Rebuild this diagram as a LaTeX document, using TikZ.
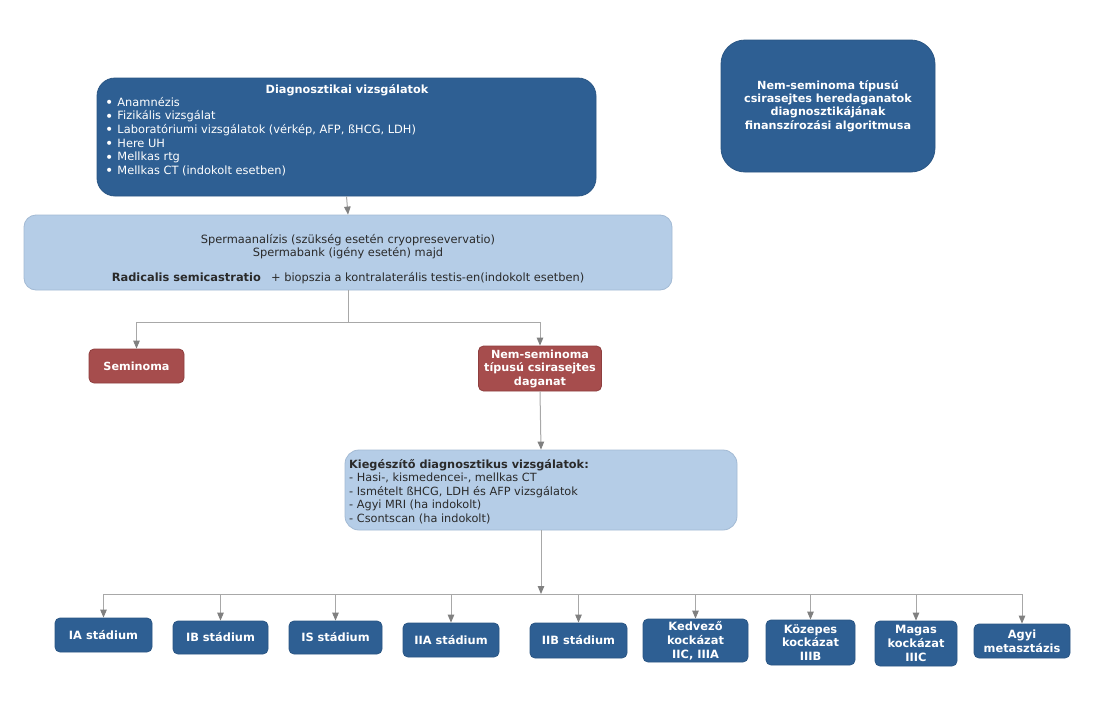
\documentclass[tikz,border=0pt]{standalone}
\usepackage{fontspec}
\setmainfont{DejaVu Sans}
\usetikzlibrary{arrows.meta}
\definecolor{dblue}{HTML}{2E5F93}
\definecolor{dblueb}{HTML}{2A5684}
\definecolor{lblue}{HTML}{B5CDE7}
\definecolor{lblueb}{HTML}{A3BAD4}
\definecolor{dred}{HTML}{A64D4D}
\definecolor{dredb}{HTML}{8E3E3E}
\definecolor{conngray}{HTML}{A8A8A8}
\definecolor{tipgray}{HTML}{808080}
\definecolor{txt}{HTML}{2A2A2A}
\newcommand\mybul{\raisebox{-0.12em}{\fontsize{14}{13.6}\selectfont•}\hspace{0.35em}}
\tikzset{
  dbox/.style={draw=dblueb, fill=dblue, line width=0.8pt, text=white, align=center, inner sep=0pt},
  lbox/.style={draw=lblueb, fill=lblue, line width=0.8pt, text=txt, inner sep=0pt},
  rbox/.style={draw=dredb, fill=dred, line width=0.8pt, text=white, align=center, inner sep=0pt, rounded corners=5pt,
    font=\bfseries\fontsize{11.2}{13.5}\selectfont},
  stage/.style={dbox, rounded corners=5pt, font=\bfseries\fontsize{11.4}{13.8}\selectfont},
  line/.style={draw=conngray, line width=1pt},
  conn/.style={line, -{Triangle[length=8pt,width=6.5pt,color=tipgray,fill=tipgray]}},
}
\begin{document}
\begin{tikzpicture}[x=1pt,y=-1pt]
\useasboundingbox (0,0) rectangle (1093,723);
\fill[white] (0,0) rectangle (1093,723);

% top diagnostic box
\node[dbox, minimum width=499pt, minimum height=118pt, rounded corners=18pt] (diag) at (346.5,137) {};
\node[text=white, font=\bfseries\fontsize{11.3}{13}\selectfont] (diagt) at (347,90) {Diagnosztikai vizsgálatok};
\node[anchor=north west, align=left, text=white, inner sep=0pt, font=\fontsize{11.4}{13.6}\selectfont] (diagl) at (105,97)
  {\mybul Anamnézis\\\mybul Fizikális vizsgálat\\\mybul Laboratóriumi vizsgálatok (vérkép, AFP, ßHCG, LDH)\\\mybul Here UH\\\mybul Mellkas rtg\\\mybul Mellkas CT (indokolt esetben)};

% title box
\node[dbox, minimum width=214pt, minimum height=132pt, rounded corners=24pt,
  font=\bfseries\fontsize{11.2}{13.3}\selectfont] (title) at (828,106)
  {Nem-seminoma típusú\\csirasejtes heredaganatok\\diagnosztikájának\\finanszírozási algoritmusa};

% sperm box
\node[lbox, minimum width=648pt, minimum height=75pt, rounded corners=12pt] (spb) at (348,252.5) {};
\node[text=txt, align=center, font=\fontsize{11.4}{13}\selectfont] (spbt) at (348,247)
  {Spermaanalízis (szükség esetén cryopresevervatio)\\Spermabank (igény esetén) majd};
\node[text=txt, font=\fontsize{11.4}{13}\selectfont] (spbr) at (348,278)
  {\textbf{Radicalis semicastratio}\hspace{0.9em}+ biopszia a kontralaterális testis-en(indokolt esetben)};

% tumour types
\node[rbox, minimum width=95pt, minimum height=34pt] (sem) at (136.5,366) {Seminoma};
\node[rbox, minimum width=123pt, minimum height=45pt] (nem) at (540,368.5) {Nem-seminoma\\típusú csirasejtes\\daganat};

% additional diagnostics
\node[lbox, minimum width=392pt, minimum height=80pt, rounded corners=14pt] (kieg) at (541,490) {};
\node[anchor=north west, align=left, text=txt, inner sep=0pt, font=\fontsize{11.3}{13.5}\selectfont] (kiegt) at (349,459)
  {\textbf{Kiegészítő diagnosztikus vizsgálatok:}\\- Hasi-, kismedencei-, mellkas CT\\- Ismételt ßHCG, LDH és AFP vizsgálatok\\- Agyi MRI (ha indokolt)\\- Csontscan (ha indokolt)};

% stages
\node[stage, minimum width=97pt, minimum height=34pt] (ia) at (103.5,635) {IA stádium};
\node[stage, minimum width=95pt, minimum height=33pt] (ib) at (220.5,637.5) {IB stádium};
\node[stage, minimum width=93pt, minimum height=33pt] (is) at (335.5,637.5) {IS stádium};
\node[stage, minimum width=96pt, minimum height=34pt] (iia) at (451,640) {IIA stádium};
\node[stage, minimum width=97pt, minimum height=35pt] (iib) at (578.5,640.5) {IIB stádium};
\node[stage, minimum width=105pt, minimum height=43pt] (kedv) at (695.5,640.5) {Kedvező\\kockázat\\IIC, IIIA};
\node[stage, minimum width=89pt, minimum height=45pt] (koz) at (810.5,642.5) {Közepes\\kockázat\\IIIB};
\node[stage, minimum width=82pt, minimum height=45pt] (mag) at (916,643.5) {Magas\\kockázat\\IIIC};
\node[stage, minimum width=96pt, minimum height=34pt] (agyi) at (1022,641) {Agyi\\metasztázis};

% connectors
\draw[conn] (diag.south) -- (spb.north);
\coordinate (split) at (348,322);
\draw[line] (spb.south) -- (split);
\draw[conn] (split) -| (sem.north);
\draw[conn] (split) -| (nem.north);
\draw[conn] (nem.south) -- (kieg.north);
\coordinate (bus) at (541,594);
\draw[conn] (kieg.south) -- (bus);
\draw[line] (ia.north |- bus) -- (agyi.north |- bus);
\foreach \n in {ia,ib,is,iia,iib,kedv,koz,mag,agyi}
  \draw[conn] (\n.north |- bus) -- (\n.north);
\end{tikzpicture}
\end{document}
